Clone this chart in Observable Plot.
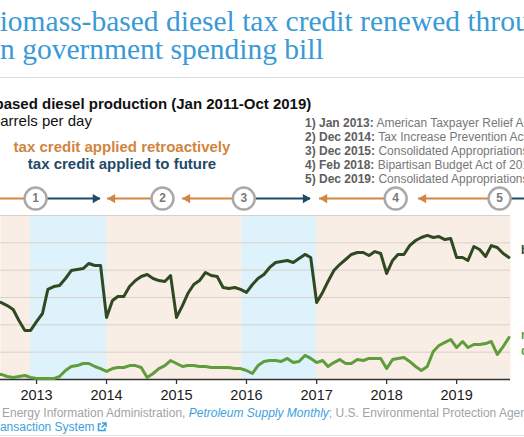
<!DOCTYPE html>
<html><head><meta charset="utf-8">
<script src="https://cdn.jsdelivr.net/npm/d3@7"></script>
<script src="https://cdn.jsdelivr.net/npm/@observablehq/plot@0.6"></script>
<style>
html,body{margin:0;padding:0;background:#fff;}
body{width:524px;height:437px;overflow:hidden;position:relative;font-family:"Liberation Sans",Arial,Helvetica,sans-serif;}
.t{position:absolute;white-space:nowrap;}
.serif{font-family:"Liberation Serif","Times New Roman",serif;font-size:29.5px;line-height:28px;color:#3a9ad5;}
.list{font-size:12px;line-height:12px;color:#777;left:305px;}
.list b{color:#5e5e5e;}
.src{font-size:12px;line-height:12px;color:#a3a3a3;}
.src .lk{color:#3d9fdc;}
.h15{font-size:15px;line-height:15px;}
#chart{position:absolute;left:0;top:180px;}
</style></head><body>
<div class="t serif" style="left:-20px;top:7px">Biomass-based diesel tax credit renewed through 2022</div>
<div class="t serif" style="left:-8.2px;top:35px">in government spending bill</div>
<div style="position:absolute;left:0;top:77px;width:524px;height:1px;background:#dcdcdc"></div>
<div class="t h15" style="left:-73px;top:96px;font-weight:bold;color:#111">Biomass-based diesel production (Jan 2011-Oct 2019)</div>
<div class="t h15" style="left:-74px;top:112.5px;color:#111">thousand barrels per day</div>
<div class="t h15" style="left:122px;transform:translateX(-50%);top:138.5px;font-weight:bold;color:#d0853f">tax credit applied retroactively</div>
<div class="t h15" style="left:122px;transform:translateX(-50%);top:155.5px;font-weight:bold;color:#1f4a68">tax credit applied to future</div>
<div id="list"></div>
<div id="chart"></div>
<div class="t src" style="left:2px;top:407px">Energy Information Administration, <i class="lk">Petroleum Supply Monthly</i>; U.S. Environmental Protection Agency, EPA Moderated</div>
<div class="t src" style="left:-11px;top:421px"><span class="lk">Transaction System</span><svg width="10" height="10" viewBox="0 0 10 10" style="vertical-align:-1px;margin-left:2px"><path d="M4 2H1.5v6.5H8V6" fill="none" stroke="#3d9fdc" stroke-width="1.5"/><path d="M5 1h4v4M9 1L4.5 5.5" fill="none" stroke="#3d9fdc" stroke-width="1.5"/></svg></div>
<div style="position:absolute;left:0;top:435px;width:524px;height:1px;background:#e2e2e2"></div>
<script>
// ---- data ----
const firstMonth = "2012-06-01"; // first listed month (Jun 2012); series run monthly to Oct 2019
const biodiesel = [
  57.1, 56.3, 54.1, 51.2, 43.2, 35.9, 35.9,
  42.4, 48.3, 65.9, 68.0, 68.8, 73.9, 79.7, 80.5, 81.2, 84.9, 83.4, 83.4,
  45.4, 57.8, 60.7, 60.7, 68.0, 72.4, 75.4, 76.8, 73.9, 72.4, 71.7, 76.1,
  45.4, 54.1, 62.9, 69.5, 72.4, 78.3, 76.1, 75.4, 67.3, 66.6, 67.3, 65.9,
  63.7, 69.5, 73.9, 76.8, 82.0, 85.6, 86.3, 87.1, 85.6, 88.5, 91.5, 89.3,
  56.3, 63.7, 71.7, 79.7, 84.1, 87.8, 91.5, 92.9, 92.9, 90.7, 93.6, 92.2,
  77.6, 87.1, 91.5, 91.5, 98.0, 101.7, 103.9, 105.4, 103.9, 104.6, 102.4, 103.2,
  89.3, 89.3, 87.1, 97.3, 95.1, 90.0, 98.0, 96.6, 92.2, 89.3
];
const renewable = [
  3.7, 3.7, 2.2, 1.5, 2.2, 2.9, 1.5,
  0.7, 0.7, 0.7, 0.7, 2.2, 6.6, 9.5, 10.2, 11.7, 11.7, 9.5, 8.0,
  5.9, 8.0, 8.8, 8.8, 10.2, 10.2, 8.8, 1.5, 4.4, 8.0, 10.2, 13.9,
  11.7, 9.5, 10.2, 10.2, 9.5, 9.5, 8.8, 8.8, 8.8, 8.8, 8.0, 8.0,
  6.6, 4.4, 10.2, 13.2, 13.9, 13.9, 13.2, 15.4, 12.4, 13.2, 17.6, 15.4,
  12.4, 13.9, 9.5, 12.4, 14.6, 11.7, 11.7, 14.6, 13.9, 15.4, 15.4, 15.4,
  8.0, 14.6, 15.4, 16.1, 13.2, 9.5, 6.6, 9.5, 20.5, 24.9, 27.1, 29.3,
  23.4, 27.8, 23.4, 25.6, 25.6, 26.3, 27.8, 18.3, 24.1, 30.7
];
const seriesNames = ["biodiesel", "renewable\ndiesel"];
const yTicks = [0, 20, 40, 60, 80, 100, 120];
const visibleRange = ["2012-06-27", "2019-10-09"];
// periods when the credit applied to the future (blue bands)
const futureStart = ["2012-12-01", "2015-12-08"];
const futureEnd = ["2014-01-01", "2017-01-01"];
// legislation markers
const lawDates = ["2012-12-27", "2014-10-20", "2015-12-18", "2018-02-17", "2019-08-13"];
const lawNotes = [
  ["1) Jan 2013:", "American Taxpayer Relief Act of 2012"],
  ["2) Dec 2014:", "Tax Increase Prevention Act of 2014"],
  ["3) Dec 2015:", "Consolidated Appropriations Act, 2016"],
  ["4) Feb 2018:", "Bipartisan Budget Act of 2018"],
  ["5) Dec 2019:", "Consolidated Appropriations Act, 2020"]
];
// arrows: start at marker, end at head
const arrowFrom = ["2012-12-27", "2012-12-27", "2014-10-20", "2015-12-18", "2015-12-18", "2018-02-17", "2019-08-13", "2019-08-13"];
const arrowTo   = ["2012-03-01", "2013-11-30", "2014-01-06", "2015-02-01", "2016-11-30", "2017-01-16", "2018-06-16", "2020-03-01"];
const arrowKind = ["retro", "future", "retro", "retro", "future", "retro", "retro", "future"];

// ---- list ----
const listEl = document.getElementById("list");
lawNotes.forEach((n, i) => {
  const d = document.createElement("div");
  d.className = "t list";
  d.style.top = (117 + 14 * i) + "px";
  d.innerHTML = `<b>${n[0]}</b> ${n[1]}`;
  listEl.appendChild(d);
});

// ---- build table ----
const parse = s => new Date(s + "T00:00:00Z");
const start = parse(firstMonth);
const rows = [];
biodiesel.forEach((v, i) => rows.push({date: d3.utcMonth.offset(start, i), value: v, series: seriesNames[0]}));
renewable.forEach((v, i) => rows.push({date: d3.utcMonth.offset(start, i), value: v, series: seriesNames[1]}));
const lastRows = seriesNames.map(s => rows.filter(r => r.series === s).at(-1));
const bands = futureStart.map((s, i) => ({x1: parse(s), x2: parse(futureEnd[i])}));
const arrows = arrowFrom.map((f, i) => ({from: parse(f), to: parse(arrowTo[i]), kind: arrowKind[i]}));
const laws = lawDates.map((d, i) => ({date: parse(d), label: String(i + 1)}));

const colors = {retro: "#d3863f", future: "#1f4a68"};
const lineColor = {[seriesNames[0]]: "#2f4a22", [seriesNames[1]]: "#5f9c3b"};
const ANNOT = 132.4; // annotation row level, above the plotted range
const yearFmt = d3.utcFormat("%Y");

const chart = Plot.plot({
  width: 524, height: 230,
  marginTop: 35, marginBottom: 31, marginLeft: 0, marginRight: 14,
  style: {background: "transparent", overflow: "visible", fontFamily: "'Liberation Sans', Arial, sans-serif"},
  x: {type: "utc", domain: visibleRange.map(parse)},
  y: {domain: [0, 120], axis: null},
  marks: [
    Plot.frame({fill: "#f9eee5", stroke: null}),
    Plot.rect(bands, {x1: "x1", x2: "x2", fill: "#def2fb"}),
    Plot.ruleY(yTicks.slice(1), {stroke: "#d8d1cb", strokeWidth: 1}),
    Plot.ruleY([0], {stroke: "#333", strokeWidth: 1.3}),
    Plot.axisX({ticks: d3.utcYear, tickSize: 5, tickPadding: 5, tickFormat: yearFmt, fontSize: 14.5, fill: "#1a1a1a", stroke: "#333", strokeWidth: 1.3}),
    Plot.line(rows, {x: "date", y: "value", z: "series", stroke: d => lineColor[d.series], strokeWidth: 3, strokeLinejoin: "round"}),
    Plot.text(lastRows.slice(0, 1), {x: "date", y: "value", text: "series", dx: 12, dy: -7, textAnchor: "start", fill: lineColor[seriesNames[0]], fontWeight: "bold", fontSize: 12}),
    Plot.text(lastRows.slice(1), {x: "date", y: "value", text: "series", dx: 12, dy: 4, textAnchor: "start", lineHeight: 1.35, fill: lineColor[seriesNames[1]], fontWeight: "bold", fontSize: 12}),
    // annotation row
    Plot.ruleY(arrows, {y: ANNOT, x1: "from", x2: "to", stroke: d => colors[d.kind], strokeWidth: 2}),
    Plot.dot(arrows.filter(d => d.kind === "future"), {x: "to", y: ANNOT, symbol: "triangle", r: 3.4, rotate: 90, dx: -5, fill: colors.future, stroke: null}),
    Plot.dot(arrows.filter(d => d.kind === "retro"), {x: "to", y: ANNOT, symbol: "triangle", r: 3.4, rotate: -90, dx: 5, fill: colors.retro, stroke: null}),
    Plot.dot(laws, {x: "date", y: ANNOT, r: 11, fill: "white", stroke: "#a9a9a9", strokeWidth: 2.5}),
    Plot.text(laws, {x: "date", y: ANNOT, text: "label", fill: "#7a7a7a", fontWeight: "bold", fontSize: 12})
  ]
});
document.getElementById("chart").appendChild(chart);
</script>
</body></html>
